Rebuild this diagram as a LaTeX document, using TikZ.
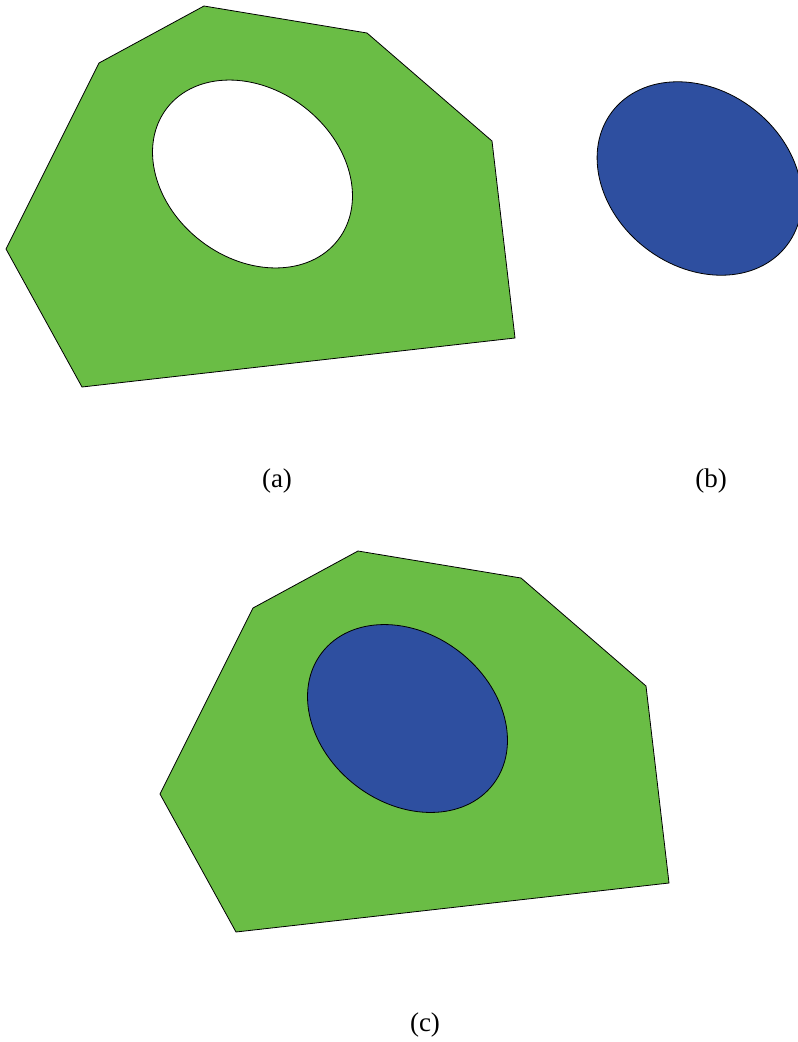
\documentclass[tikz,border=0pt]{standalone}
\usepackage{fontspec}
\setmainfont{Liberation Serif}
\definecolor{cellgreen}{HTML}{6ABD45}
\definecolor{nucblue}{HTML}{2E4FA0}
\begin{document}
\begin{tikzpicture}[x=1pt,y=-1pt,
  outline/.style={draw=black, line width=0.8pt, line join=miter},
  lbl/.style={font=\fontsize{27}{30}\selectfont, inner sep=0pt}]
\useasboundingbox (0,0) rectangle (798,1042);
\clip (0,0) rectangle (798,1042);
% (a) cell with hole
\path[outline, fill=cellgreen, even odd rule]
  (204,6) -- (367,33) -- (492,141) -- (515,338) -- (82,387) -- (6,249) -- (99,63) -- cycle
  (252.5,174) ellipse [x radius=108, y radius=84.6, rotate=-37.5];
% (b) nucleus
\path[outline, fill=nucblue] (699.5,178.5) ellipse [x radius=110, y radius=88, rotate=-37.5];
% (c) cell with nucleus
\begin{scope}[shift={(154,545)}]
\path[outline, fill=cellgreen]
  (204,6) -- (367,33) -- (492,141) -- (515,338) -- (82,387) -- (6,249) -- (99,63) -- cycle;
\path[outline, fill=nucblue] (253.5,173.5) ellipse [x radius=108, y radius=84.6, rotate=-37.5];
\end{scope}
\node[lbl] (la) at (277,481) {(a)};
\node[lbl] (lb) at (711,481) {(b)};
\node[lbl] (lc) at (425,1025) {(c)};
\end{tikzpicture}
\end{document}
